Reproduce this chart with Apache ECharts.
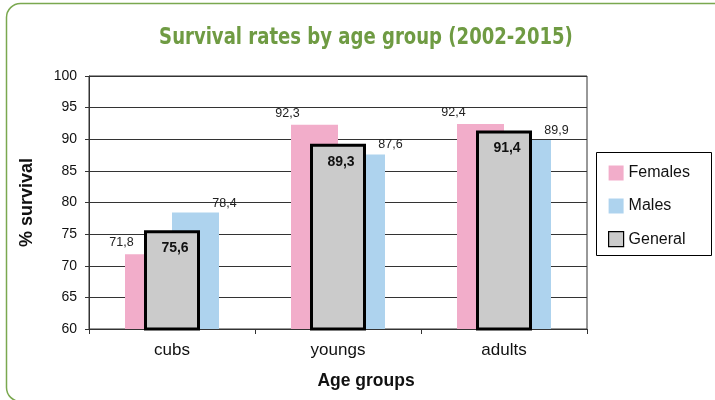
<!DOCTYPE html>
<html><head><meta charset="utf-8">
<script src="https://cdn.jsdelivr.net/npm/echarts@6/dist/echarts.min.js"></script>
<style>html,body{margin:0;padding:0;background:#fff}#c{width:715px;height:400px}</style>
</head><body><div id="c"></div>
<script>
var categories = ['cubs', 'youngs', 'adults'];
var females = [71.8, 92.3, 92.4];
var males = [78.4, 87.6, 89.9];
var general = [75.6, 89.3, 91.4];
var seriesNames = ['Females', 'Males', 'General'];
var yTicks = {min: 60, max: 100, interval: 5};

function fmt(p) { return String(p.value).replace('.', ','); }
var FF = 'Liberation Sans, Arial, sans-serif';

var chart = echarts.init(document.getElementById('c'), null, {renderer: 'canvas'});
chart.setOption({
  animation: false,
  backgroundColor: '#fff',
  graphic: [
    {type: 'rect', shape: {x: 6.5, y: 3.5, width: 800, height: 398, r: 14}, style: {fill: 'none', stroke: '#7aa84f', lineWidth: 1.5}, silent: true},
    {type: 'text', x: 366, y: 38, scaleX: 0.873, style: {text: 'Survival rates by age group (2002-2015)', fill: '#6f9b43', font: 'bold 23px "DejaVu Sans Condensed", "DejaVu Sans", sans-serif', textAlign: 'center', textVerticalAlign: 'middle'}},
    {type: 'rect', shape: {x: 596.5, y: 152.5, width: 115, height: 103}, style: {fill: 'none', stroke: '#000', lineWidth: 1}, silent: true}
  ],
  grid: {left: 89, right: 128, top: 76, bottom: 71, show: true, borderColor: '#333', borderWidth: 1},
  legend: {
    orient: 'vertical', left: 608, top: 165, padding: 0, itemGap: 17, itemWidth: 15, itemHeight: 15,
    textStyle: {fontSize: 16, color: '#111', fontFamily: FF},
    data: [
      {name: 'Females', icon: 'rect'},
      {name: 'Males', icon: 'rect'},
      {name: 'General', icon: 'rect', itemStyle: {borderWidth: 1.2, borderColor: '#000'}}
    ]
  },
  xAxis: [
    {type: 'category', data: categories, name: 'Age groups', nameLocation: 'middle', nameGap: 43,
     nameTextStyle: {fontSize: 17.5, fontWeight: 'bold', color: '#111', fontFamily: FF, padding: [0, 0, 0, 56]},
     axisLine: {lineStyle: {color: '#333', width: 1}},
     axisTick: {show: true, length: 5, lineStyle: {color: '#333'}},
     axisLabel: {fontSize: 17, color: '#111', margin: 13, fontFamily: FF}},
    {type: 'category', data: categories, show: false}
  ],
  yAxis: {
    type: 'value', min: yTicks.min, max: yTicks.max, interval: yTicks.interval,
    name: '% survival', nameLocation: 'middle', nameGap: 53, nameRotate: 90,
    nameTextStyle: {fontSize: 18, fontWeight: 'bold', color: '#111', fontFamily: FF},
    axisLine: {show: true, lineStyle: {color: '#333', width: 1}},
    axisTick: {show: true, length: 4, lineStyle: {color: '#333'}},
    axisLabel: {fontSize: 14, color: '#111', margin: 12, fontFamily: FF},
    splitLine: {lineStyle: {color: '#333', width: 1}}
  },
  series: [
    {name: seriesNames[0], type: 'bar', xAxisIndex: 0, data: females, barWidth: 47, barGap: '0%',
     itemStyle: {color: '#f2adca'},
     label: {show: true, position: 'top', distance: 5, offset: [-27, 0], formatter: fmt, fontSize: 12.5, color: '#222', fontFamily: FF}},
    {name: seriesNames[1], type: 'bar', xAxisIndex: 0, data: males, barWidth: 47, barGap: '0%',
     itemStyle: {color: '#aed3ee'},
     label: {show: true, position: 'top', distance: 3, offset: [29, 0], formatter: fmt, fontSize: 12.5, color: '#222', fontFamily: FF}},
    {name: seriesNames[2], type: 'bar', xAxisIndex: 1, data: general, barWidth: 56, z: 5,
     itemStyle: {color: '#cbcbcb', borderColor: '#000', borderWidth: 3},
     label: {show: true, position: 'insideTop', distance: 11, offset: [3, 0], formatter: fmt, fontSize: 14, fontWeight: 'bold', color: '#111', fontFamily: FF}}
  ]
});
</script></body></html>
